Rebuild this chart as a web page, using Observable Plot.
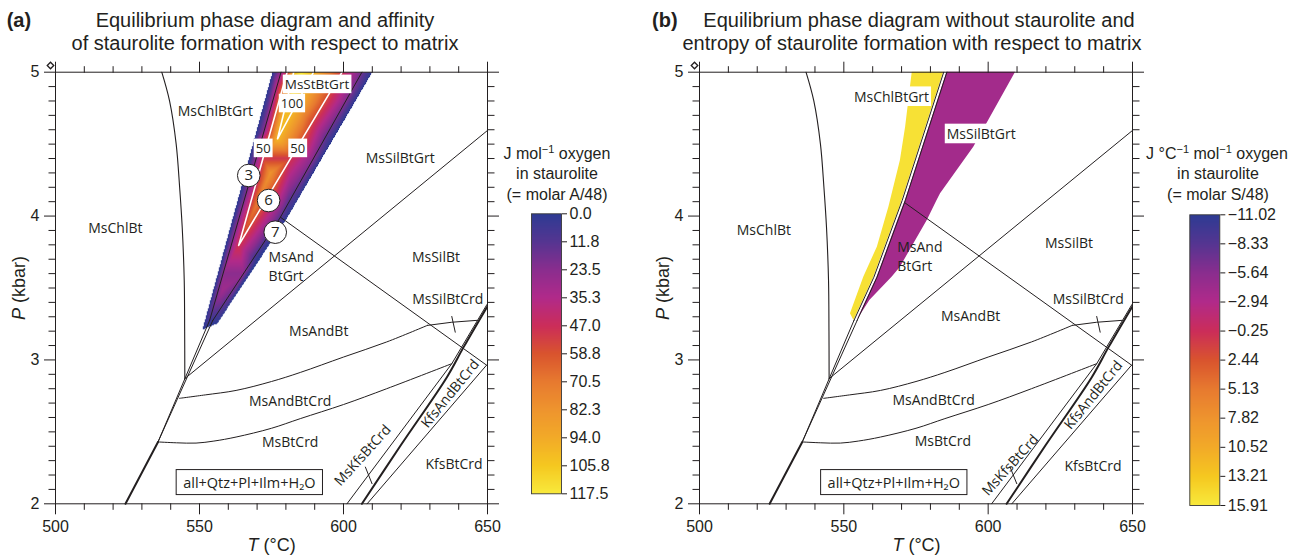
<!DOCTYPE html>
<html><head><meta charset="utf-8">
<script src="https://cdn.jsdelivr.net/npm/d3@7"></script>
<script src="https://cdn.jsdelivr.net/npm/@observablehq/plot@0.6"></script>
<style>
html,body{margin:0;padding:0;background:#fff;}
#root{position:relative;width:1301px;height:557px;overflow:hidden;background:#fff;font-family:"Liberation Sans",Arial,sans-serif;}
#root > svg{position:absolute;}
</style></head><body><div id="root"></div>
<script>
const INK = "#231f20";
const FIELD_FONT = "'Open Sans', 'Noto Sans', sans-serif";

// ---------- axis ticks ----------
const tMajor = [500, 550, 600, 650];
const tMinor = [510, 520, 530, 540, 560, 570, 580, 590, 610, 620, 630, 640];
const pMajor = [2, 3, 4, 5];
const pMinor = [2.1,2.2,2.3,2.4,2.5,2.6,2.7,2.8,2.9,3.1,3.2,3.3,3.4,3.5,3.6,3.7,3.8,3.9,4.1,4.2,4.3,4.4,4.5,4.6,4.7,4.8,4.9];

// ---------- colour bars ----------
const rampColors = ["#2d3b93","#553591","#8a2d8e","#b12a8a","#cb2d5a","#d9542e","#e77a2f","#ee942e","#f2aa28","#f5c820","#f8ea3c"];
const barTicksA = [0.0, 11.75, 23.5, 35.25, 47.0, 58.75, 70.5, 82.25, 94.0, 105.75, 117.5];
const barLabelsA = ["0.0","11.8","23.5","35.3","47.0","58.8","70.5","82.3","94.0","105.8","117.5"];
const barTicksB = [-11.02, -8.33, -5.64, -2.94, -0.25, 2.44, 5.13, 7.82, 10.52, 13.21, 15.91];

// ---------- phase boundaries (T °C, P kbar) ----------
const chlOut = [[536.9,5.0],[539.6,4.80],[541.9,4.50],[543.1,4.20],[544.0,3.92],[544.7,3.55],[544.85,3.20],[544.9,2.87]];
const lowerThick = [[524.3,2.0],[535.6,2.43]];
const strandLeftLow = [[535.6,2.43],[553.5,3.274]];
const strandRightLow = [[535.6,2.43],[554.6,3.274]];
const strandLeftHigh = [[553.5,3.274],[560.4,3.575],[570.2,4.108],[584.6,5.0]];
const strandRightHigh = [[554.6,3.274],[561.5,3.575],[571.3,4.108],[585.7,5.0]];
const react3 = [[553.5,3.274],[578.3,5.0]];
const react7 = [[554.6,3.274],[578.1,3.992],[606.4,5.0]];
const andSilA = [[578.1,3.992],[649.8,2.962]];
const andSilB = [[571.3,4.09],[649.8,2.962]];
const grtOut = [[544.9,2.87],[650,4.595]];
const crdUpper = [[543.0,2.733],[552,2.757],[562.7,2.788],[575,2.85],[585,2.913],[600,3.02],[615,3.125],[629.1,3.24]];
const crdUpperEnd = [[629.1,3.24],[637.6,3.262],[646.3,3.275]];
const crdLower = [[535.6,2.43],[542,2.424],[548.8,2.422],[555,2.436],[562.7,2.464],[575,2.525],[585,2.592],[600,2.69],[615,2.80],[637.6,2.974]];
const msOut = [[606.4,2.0],[620,2.41],[635.9,2.88],[641.7,3.089],[649.8,3.367]];
const msKfsLeft = [[601.2,2.0],[637.6,2.974],[649.8,3.385]];
const kfsAndRight = [[608.2,2.0],[649.6,2.962]];
const silCrdTick = [[637.6,3.302],[638.8,3.193]];
const msKfsTick = [[607.6,2.255],[609.9,2.14]];

// ---------- affinity samples (panel a), J/mol O ----------
const affT = [575.3,551.0,610.0,580.5,570.1,556.2,563.2,569.2,595.4,
              580.4,572.1,563.6,581.6,599.5,
              582.7,579.9,577.1,583.4,589.6,585.5,581.5,
              557.9,554.5,568.0,574.6,
              558.2,563.9,572.6,565.3,589.6,600.8];
const affP = [5.0,3.21,5.0,3.990,3.691,3.254,4.10,4.55,4.50,
              5.0,4.40,3.796,4.40,5.0,
              5.0,4.769,4.537,4.769,5.0,5.0,4.80,
              3.483,3.344,4.0,4.3,
              3.60,4.0,4.6,3.60,4.4,4.8];
const affA = [0,0,0,0,0,0,0,0,0,
              50,50,50,50,50,
              100,100,100,100,100,117.5,110,
              30,14,66,82,
              24,24,24,24,22,22];
const contour50 = [[580.4,5.0],[563.6,3.796],[599.5,5.0]];
const contour100 = [[582.7,5.0],[577.1,4.537],[589.6,5.0]];

// ---------- entropy fields (panel b), J/°C/mol O ----------
const yellowP = [3.274,3.321,3.575,3.784,4.062,4.386,4.618,5.0];
const yellowLeft = [553.5,552.3,556.9,561.6,565.6,569.6,571.4,573.7];
const yellowRight = [553.5,554.6,560.4,564.2,569.4,574.7,578.4,584.6];
const yellowS = 15.2;
const purpleP = [3.274,3.413,3.575,3.645,3.969,4.108,4.155,4.479,5.0];
const purpleLeft = [554.6,557.8,561.5,562.8,568.7,571.3,572.1,577.3,585.7];
const purpleRight = [554.6,559.0,566.7,569.6,578.9,582.3,583.5,595.0,609.5];
const purpleS = -3.9;

// ---------- labels ----------
const labelsA = [
  {n:"MsChlBtGrt",T:555.5,P:4.726},{n:"MsSilBtGrt",T:619.7,P:4.40},{n:"MsChlBt",T:520.8,P:3.913},
  {n:"MsSilBt",T:632.1,P:3.71},{n:"MsSilBtCrd",T:636.2,P:3.42},{n:"MsAndBt",T:591.4,P:3.20},
  {n:"MsAndBtCrd",T:581.5,P:2.712},{n:"MsBtCrd",T:581.5,P:2.427},{n:"KfsBtCrd",T:638.4,P:2.274}
];
const labelsStartA = [{n:"MsAnd",T:574.0,P:3.714},{n:"BtGrt",T:574.0,P:3.580}];
const boxedA = [{n:"MsStBtGrt",T:590.8,P:4.914,s:13.5},{n:"100",T:582.1,P:4.780,s:13},{n:"50",T:572.1,P:4.468,s:13},{n:"50",T:584.1,P:4.468,s:13}];
const circlesA = [{n:"3",T:567.1,P:4.282},{n:"6",T:574.0,P:4.108},{n:"7",T:576.3,P:3.888}];
const rotatedA = [{n:"MsKfsBtCrd",T:606.7,P:2.336,r:-48},{n:"KfsAndBtCrd",T:637.1,P:2.765,r:-51}];
const labelsB = [
  {n:"MsChlBt",T:522.3,P:3.90},{n:"MsSilBt",T:628.0,P:3.81},{n:"MsSilBtCrd",T:634.7,P:3.42},
  {n:"MsAndBt",T:593.9,P:3.30},{n:"MsAndBtCrd",T:581.1,P:2.719},{n:"MsBtCrd",T:584.3,P:2.434},
  {n:"KfsBtCrd",T:636.3,P:2.26}
];
const labelsStartB = [{n:"MsAnd",T:568.5,P:3.780},{n:"BtGrt",T:568.5,P:3.650}];
const boxedB = [{n:"MsChlBtGrt",T:566.5,P:4.826,s:14},{n:"MsSilBtGrt",T:597.6,P:4.567,s:14}];
const rotatedB = [{n:"MsKfsBtCrd",T:607.7,P:2.268,r:-48},{n:"KfsAndBtCrd",T:636.5,P:2.755,r:-51}];
const assemblage = [{n:"all+Qtz+Pl+Ilm+H₂O",T:567.3,P:2.145}];

// ---------- helpers ----------
const root = document.getElementById("root");
const ramp = d3.piecewise(d3.interpolateRgb, rampColors);
const colorSpec = (domain) => ({type: "linear", domain, interpolate: ramp});
const LABEL_SIZE = 14;

function ln(pts, w = 1, curve = "linear", stroke = INK) {
  return Plot.line(pts, {x: d => d[0], y: d => d[1], stroke, strokeWidth: w, curve});
}
function axes() {
  return [
    Plot.axisX(tMajor, {anchor: "bottom", tickSize: 11, tickPadding: 6, fontSize: 16, label: null, tickFormat: d => String(d)}),
    Plot.axisX(tMinor, {anchor: "bottom", tickSize: 6.5, fill: "none", label: null}),
    Plot.axisX(tMajor, {anchor: "top", tickSize: 11, fill: "none", label: null}),
    Plot.axisX(tMinor, {anchor: "top", tickSize: 6.5, fill: "none", label: null}),
    Plot.axisY(pMajor, {anchor: "left", tickSize: 11, tickPadding: 5, fontSize: 16, label: null, tickFormat: d => String(d)}),
    Plot.axisY(pMinor, {anchor: "left", tickSize: 6.5, fill: "none", label: null}),
    Plot.axisY(pMajor, {anchor: "right", tickSize: 11, fill: "none", label: null}),
    Plot.axisY(pMinor, {anchor: "right", tickSize: 6.5, fill: "none", label: null}),
    Plot.frame({stroke: INK})
  ];
}
function commonLines() {
  return [
    ln(chlOut, 1.1, "catmull-rom"),
    ln(lowerThick, 2),
    ln(strandLeftLow, 1), ln(strandRightLow, 1),
    ln(grtOut, 1),
    ln(crdUpper, 1, "catmull-rom"), ln(crdUpperEnd, 1),
    ln(crdLower, 1, "catmull-rom"),
    ln(msOut, 2, "catmull-rom"), ln(msKfsLeft, 1), ln(kfsAndRight, 1),
    ln(silCrdTick, 1), ln(msKfsTick, 1)
  ];
}
function textMarks(labels, starts, boxed, rotated) {
  const o = {x: "T", y: "P", text: "n", fontFamily: FIELD_FONT, fill: INK};
  return [
    Plot.text(labels, {...o, fontSize: LABEL_SIZE}),
    Plot.text(starts, {...o, fontSize: LABEL_SIZE, textAnchor: "start"}),
    Plot.text(boxed, {...o, fontSize: d => d.s, ariaDescription: "boxed"}),
    Plot.text(rotated, {...o, fontSize: LABEL_SIZE, rotate: "r"}),
    Plot.text(assemblage, {...o, fontSize: 14.5, ariaDescription: "framed"})
  ];
}

const baseInterp = Plot.interpolatorBarycentric ? Plot.interpolatorBarycentric() : null;
function clippedBary(index, w, h, X, Y, V) {
  const W = baseInterp(index, w, h, X, Y, V);
  const hull = d3.polygonHull(Array.from(index, i => [X[i], Y[i]]));
  for (let y = 0; y < h; ++y) for (let x = 0; x < w; ++x) {
    if (!d3.polygonContains(hull, [x + 0.5, y + 0.5])) W[y * w + x] = NaN;
  }
  return W;
}

function place(svg, left, top) {
  svg.style.left = left + "px"; svg.style.top = top + "px";
  root.appendChild(svg);
  svg.querySelectorAll('g[aria-description="boxed"] text, g[aria-description="framed"] text').forEach(t => {
    const b = t.getBBox();
    const framed = !!t.closest('g[aria-description="framed"]');
    const px = framed ? 7 : 2, py = framed ? 3 : 0.3;
    const r = document.createElementNS("http://www.w3.org/2000/svg", "rect");
    r.setAttribute("x", b.x - px); r.setAttribute("y", b.y - py);
    r.setAttribute("width", b.width + 2 * px); r.setAttribute("height", b.height + 2 * py);
    r.setAttribute("fill", "white");
    if (framed) { r.setAttribute("stroke", INK); r.setAttribute("stroke-width", "1"); }
    const tr = t.getAttribute("transform"); if (tr) r.setAttribute("transform", tr);
    t.parentNode.insertBefore(r, t);
  });
}

const styleObj = {background: "transparent", color: INK, fontFamily: "'Liberation Sans', Arial, sans-serif", fontSize: "16px", overflow: "visible"};

// ---------- panel (a) ----------
const affPts = affT.map((T, i) => ({T, P: affP[i], A: affA[i]}));
const rasterA = baseInterp
  ? Plot.raster(affPts, {x: "T", y: "P", fill: "A", interpolate: clippedBary, x1: 548, x2: 612, y1: 3.15, y2: 5})
  : Plot.raster(affPts, {x: "T", y: "P", fill: "A", interpolate: "barycentric", x1: 548, x2: 612, y1: 3.15, y2: 5});

const plotA = Plot.plot({
  width: 500, height: 557, marginLeft: 55, marginRight: 13, marginTop: 71.7, marginBottom: 53.7,
  x: {domain: [500, 650]}, y: {domain: [2, 5]},
  color: colorSpec([0, 117.5]),
  style: styleObj,
  marks: [
    rasterA,
    ln(contour50, 1.6, "linear", "white"), ln(contour100, 1.6, "linear", "white"),
    ...commonLines(),
    ln(react3, 1), ln(react7, 1), ln(andSilA, 1),
    ...axes(),
    ...textMarks(labelsA, labelsStartA, boxedA, rotatedA),
    Plot.dot(circlesA, {x: "T", y: "P", r: 11.3, fill: "white", stroke: INK, strokeWidth: 1}),
    Plot.text(circlesA, {x: "T", y: "P", text: "n", fontSize: 15, fontFamily: FIELD_FONT, fill: INK})
  ]
});
place(plotA, 0, 0);

// ---------- panel (b) ----------
const yellowData = yellowP.map((P, i) => ({P, x1: yellowLeft[i], x2: yellowRight[i], S: yellowS}));
const purpleData = purpleP.map((P, i) => ({P, x1: purpleLeft[i], x2: purpleRight[i], S: purpleS}));
const plotB = Plot.plot({
  width: 500, height: 557, marginLeft: 55, marginRight: 12, marginTop: 71.7, marginBottom: 53.7,
  x: {domain: [500, 650]}, y: {domain: [2, 5]},
  color: colorSpec([-11.02, 15.91]),
  style: styleObj,
  marks: [
    Plot.areaX(yellowData, {y: "P", x1: "x1", x2: "x2", fill: "S"}),
    Plot.areaX(purpleData, {y: "P", x1: "x1", x2: "x2", fill: "S"}),
    ...commonLines(),
    ln(strandLeftHigh, 1), ln(strandRightHigh, 1), ln(andSilB, 1),
    ...axes(),
    ...textMarks(labelsB, labelsStartB, boxedB, rotatedB)
  ]
});
place(plotB, 644, 0);

// ---------- colour bars ----------
function colorbar(domain, ticks, fmt, {width, height, mL, mR, mT, mB}) {
  return Plot.plot({
    width, height, marginLeft: mL, marginRight: mR, marginTop: mT, marginBottom: mB,
    x: {domain: [0, 1], axis: null},
    y: {domain, reverse: true},
    color: colorSpec(domain),
    style: styleObj,
    marks: [
      Plot.raster({fill: (x, y) => y, x1: 0, x2: 1, y1: domain[0], y2: domain[1]}),
      Plot.frame({stroke: "#3a3a3a", strokeWidth: 0.9}),
      Plot.axisY(ticks, {anchor: "right", tickSize: 5, tickPadding: 3, fontSize: 16, label: null, tickFormat: fmt})
    ]
  });
}
place(colorbar([0, 117.5], barTicksA, (d, i) => barLabelsA[i], {width: 100, height: 310, mL: 11, mR: 59, mT: 13.3, mB: 16.7}), 520, 200);
place(colorbar([-11.02, 15.91], barTicksB, d3.format(".2f"), {width: 123, height: 320, mL: 11.3, mR: 81.7, mT: 14.3, mB: 15}), 1178, 200);

// ---------- titles and axis titles ----------
const ov = `
<svg xmlns="http://www.w3.org/2000/svg" width="1301" height="557" style="left:0;top:0" font-family="Liberation Sans, Arial, sans-serif" fill="${INK}">
  <text x="6.7" y="26.7" font-size="20" font-weight="bold">(a)</text>
  <text x="265" y="26.7" font-size="20" text-anchor="middle">Equilibrium phase diagram and affinity</text>
  <text x="265" y="50" font-size="20" text-anchor="middle">of staurolite formation with respect to matrix</text>
  <text x="652" y="26.7" font-size="20" font-weight="bold">(b)</text>
  <text x="919" y="26.7" font-size="20" text-anchor="middle">Equilibrium phase diagram without staurolite and</text>
  <text x="912" y="50" font-size="20" text-anchor="middle">entropy of staurolite formation with respect to matrix</text>
  <text x="271.7" y="551" font-size="18" text-anchor="middle"><tspan font-style="italic">T</tspan> (°C)</text>
  <text x="916.5" y="551" font-size="18" text-anchor="middle"><tspan font-style="italic">T</tspan> (°C)</text>
  <text transform="translate(24.5,288) rotate(-90)" font-size="18" text-anchor="middle"><tspan font-style="italic">P</tspan> (kbar)</text>
  <text transform="translate(668.5,288) rotate(-90)" font-size="18" text-anchor="middle"><tspan font-style="italic">P</tspan> (kbar)</text>
  <text x="557" y="159.3" font-size="16" text-anchor="middle">J mol<tspan font-size="11" dy="-6">−1</tspan><tspan dy="6"> oxygen</tspan></text>
  <text x="557" y="179.3" font-size="16" text-anchor="middle">in staurolite</text>
  <text x="557" y="199.5" font-size="16" text-anchor="middle">(= molar A/48)</text>
  <text x="1217" y="159.3" font-size="16" text-anchor="middle">J °C<tspan font-size="11" dy="-6">−1</tspan><tspan dy="6"> mol</tspan><tspan font-size="11" dy="-6">−1</tspan><tspan dy="6"> oxygen</tspan></text>
  <text x="1218" y="179.3" font-size="16" text-anchor="middle">in staurolite</text>
  <text x="1218" y="199.5" font-size="16" text-anchor="middle">(= molar S/48)</text>
  <rect x="-2.3" y="-2.3" width="4.6" height="4.6" transform="translate(50.5,65.5) rotate(45)" fill="none" stroke="${INK}" stroke-width="1.3"/>
  <rect x="-2.3" y="-2.3" width="4.6" height="4.6" transform="translate(694.5,65.5) rotate(45)" fill="none" stroke="${INK}" stroke-width="1.3"/>
</svg>`;
root.insertAdjacentHTML("beforeend", ov);
</script></body></html>
